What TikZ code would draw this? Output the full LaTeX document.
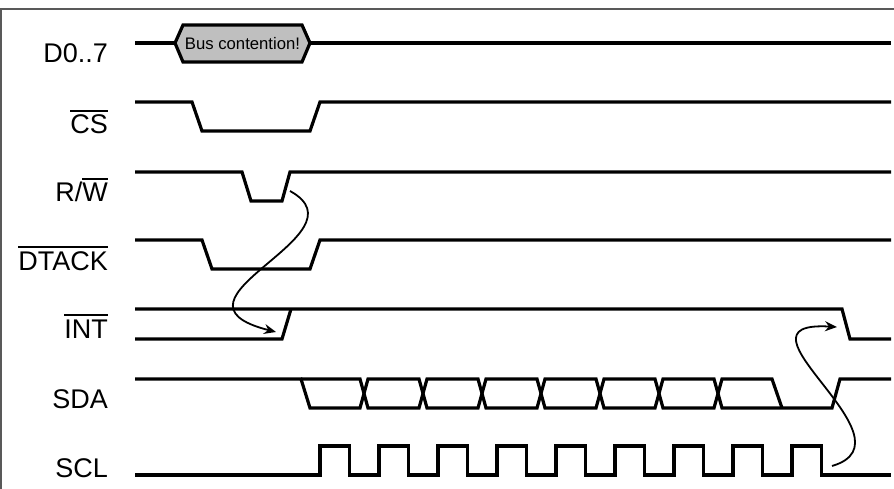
\documentclass[tikz,border=0pt]{standalone}
\usepackage{fontspec}
\setmainfont{Liberation Sans}
\usetikzlibrary{arrows.meta}
\newlength\ovlw
\newcommand\ovl[1]{\settowidth\ovlw{#1}\rlap{\rule[0.82em]{\ovlw}{2pt}}#1}
\tikzset{
  sig/.style={line width=3.2pt, line join=miter},
  lbl/.style={anchor=base east, inner sep=0pt, font=\fontsize{27}{27}\selectfont},
  cause/.style={line width=1.8pt, -{Stealth[length=12pt,width=10pt,inset=4pt]}},
  frame/.style={line width=1.5pt, draw=black!65},
  busfill/.style={fill=black!25, draw=black, line width=3.2pt, line join=miter}
}
\begin{document}
\begin{tikzpicture}[x=1pt,y=-1pt]
\useasboundingbox (0,0) rectangle (894,489);
% frame (only top and left visible)
\draw[frame] (894,9) -- (1,9) -- (1,489);
% labels
\node[lbl] (lD)   at (108,63)  {D0..7};
\node[lbl] (lCS)  at (108,134) {\ovl{CS}};
\node[lbl] (lRW)  at (108,202) {R/\ovl{W}};
\node[lbl] (lDT)  at (108,270) {\ovl{DTACK}};
\node[lbl] (lINT) at (108,338) {\ovl{INT}};
\node[lbl] (lSDA) at (108,408) {SDA};
\node[lbl] (lSCL) at (108,477) {SCL};
% D0..7
\draw[sig] (135,43) -- (175,43);
\draw[busfill] (175,43) -- (183,25) -- (302,25) -- (310,43) -- (302,62) -- (183,62) -- cycle;
\node[inner sep=0pt, font=\fontsize{16.7}{16.7}\selectfont] (bus) at (242.5,44) {Bus contention!};
\draw[sig] (310,43) -- (891,43);
% CS
\draw[sig] (135,102) -- (192,102) -- (202,131) -- (310,131) -- (320,102) -- (891,102);
% R/W
\draw[sig] (135,172) -- (242,172) -- (251,201) -- (282,201) -- (290,172) -- (891,172);
% DTACK
\draw[sig] (135,240) -- (202,240) -- (212,269) -- (310,269) -- (320,240) -- (891,240);
% INT
\draw[sig] (135,309) -- (842,309) -- (850,339) -- (891,339);
\draw[sig] (135,339) -- (282,339) -- (291,309);
% SDA
\draw[sig] (135,379) -- (301,379) -- (310,408) -- (360,408) -- (368,379) -- (419,379) -- (427,408)
  -- (478,408) -- (486,379) -- (537,379) -- (545,408) -- (596,408) -- (604,379) -- (655,379)
  -- (663,408) -- (714,408) -- (722,379) -- (772,379) -- (782,408);
\draw[sig] (301,379) -- (360,379) -- (368,408) -- (419,408) -- (427,379) -- (478,379) -- (486,408)
  -- (537,408) -- (545,379) -- (596,379) -- (604,408) -- (655,408) -- (663,379) -- (714,379)
  -- (722,408) -- (832,408) -- (840,379) -- (891,379);
% SCL
\draw[sig] (135,475) foreach \i in {0,...,8} { -- ({320+59*\i},475) -- ({320+59*\i},446)
  -- ({349.5+59*\i},446) -- ({349.5+59*\i},475) } -- (891,475);
% causal arrows
\coordinate (rwedge) at (290,191);
\coordinate (intrise) at (276,332);
\coordinate (sclend) at (832,466);
\coordinate (intfall) at (837,327);
\draw[cause] (rwedge) .. controls (370,235) and (150,300) .. (intrise);
\draw[cause] (sclend) .. controls (920,440) and (720,320) .. (intfall);
\end{tikzpicture}
\end{document}
